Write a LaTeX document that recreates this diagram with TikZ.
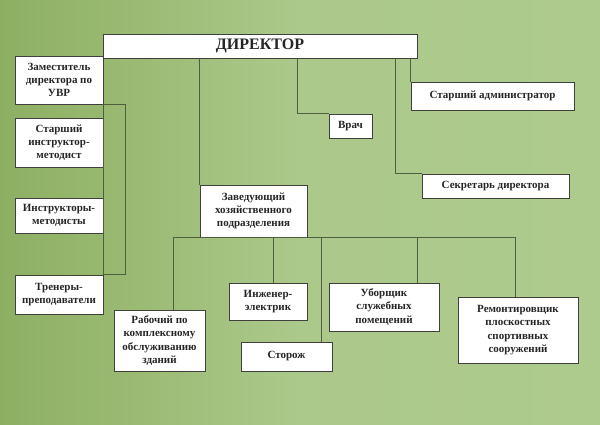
\documentclass[tikz,border=0pt]{standalone}
\usepackage{fontspec}
\setmainfont{Liberation Serif}
\usepackage{tikz}
\usetikzlibrary{calc}

\definecolor{bgdark}{HTML}{8DAF62}
\definecolor{bglight}{HTML}{AECB8E}
\definecolor{linecol}{HTML}{4E5E3E}

\begin{document}
\begin{tikzpicture}[x=1pt,y=-1pt,
    postbox/.style={draw=black!75, fill=white, line width=0.7pt, inner sep=0pt, align=center,
        font=\bfseries\fontsize{11}{13.3}\selectfont, text=black!85}]
            % background
            \shade[left color=bgdark, right color=bglight, middle color=bglight!92!bgdark]
                (0,0) rectangle (600,424);
            \useasboundingbox (0,0) rectangle (600,424);

            \node[postbox, minimum width=314, minimum height=24,
                  font=\bfseries\fontsize{16}{18}\selectfont] (dir) at (260,46) {ДИРЕКТОР};
            \node[postbox, minimum width=88, minimum height=48] (zam) at (59,80) {Заместитель\\директора по\\УВР};
            \node[postbox, minimum width=88, minimum height=49] (sim) at (59,142.5) {Старший\\инструктор-\\методист};
            \node[postbox, minimum width=88, minimum height=35] (im) at (59,215.5) {Инструкторы-\\методисты};
            \node[postbox, minimum width=88, minimum height=39] (tren) at (59,294.5) {Тренеры-\\преподаватели};
            \node[postbox, minimum width=43, minimum height=24] (vrach) at (350.5,126) {Врач};
            \node[postbox, minimum width=163, minimum height=28] (sadm) at (492.5,96) {Старший администратор};
            \node[postbox, minimum width=147, minimum height=24] (sekr) at (495.5,186) {Секретарь директора};
            \node[postbox, minimum width=107, minimum height=52] (zav) at (253.5,211) {Заведующий\\хозяйственного\\подразделения};
            \node[postbox, minimum width=91, minimum height=61] (rab) at (159.5,340.5) {Рабочий по\\комплексному\\обслуживанию\\зданий};
            \node[postbox, minimum width=78, minimum height=37] (inzh) at (268,301.5) {Инженер-\\электрик};
            \node[postbox, minimum width=91, minimum height=29] (stor) at (286.5,356.5) {Сторож};
            \node[postbox, minimum width=110, minimum height=48] (ub) at (384,307) {Уборщик\\служебных\\помещений};
            \node[postbox, minimum width=120, minimum height=66] (rem) at (518,330) {Ремонтировщик\\плоскостных\\спортивных\\сооружений};

            \tikzset{every path/.style={draw=linecol, line width=0.7pt}}

            % director
            \draw (zav.north west |- dir.south) -- (zav.north west);
            \draw (297,0 |- dir.south) |- (vrach.north west);
            \draw (sadm.west |- dir.south) -- (sadm.north west);
            \draw (395,0 |- dir.south) |- (sekr.north west);

            % deputy
            \draw (zam.south east) -- ++(22,0) |- (tren.north east);
            \draw (zam.south east) -- (tren.north east);

            % household unit
            \draw (173,0 |- zav.south) -- (515,0 |- zav.south);
            \draw (173,0 |- zav.south) -- (173,0 |- rab.north);
            \draw (273,0 |- zav.south) -- (273,0 |- inzh.north);
            \draw (321,0 |- zav.south) -- (321,0 |- stor.north);
            \draw (417,0 |- zav.south) -- (417,0 |- ub.north);
            \draw (515,0 |- zav.south) -- (515,0 |- rem.north);

        \end{tikzpicture}
\end{document}
